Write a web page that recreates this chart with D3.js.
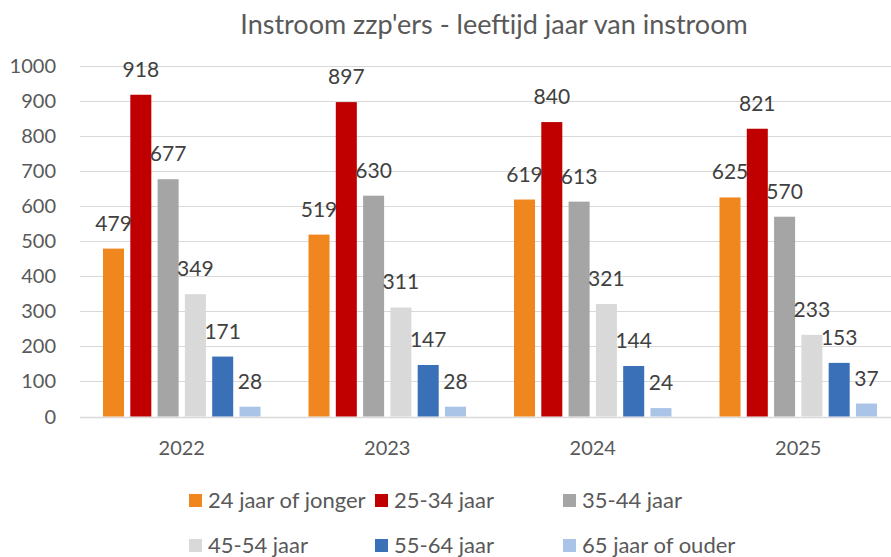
<!DOCTYPE html>
<html><head><meta charset="utf-8">
<script src="https://cdn.jsdelivr.net/npm/d3@7"></script>
<style>body{margin:0;background:#fff;} text{font-family:Lato,"Open Sans",sans-serif;}</style>
</head><body>
<svg id="c" width="891" height="557"></svg>
<script>
const years = ["2022","2023","2024","2025"];
const seriesNames = ["24 jaar of jonger","25-34 jaar","35-44 jaar","45-54 jaar","55-64 jaar","65 jaar of ouder"];
const s24 = [479,519,619,625];
const s25 = [918,897,840,821];
const s35 = [677,630,613,570];
const s45 = [349,311,321,233];
const s55 = [171,147,144,153];
const s65 = [28,28,24,37];
const yTicks = [0,100,200,300,400,500,600,700,800,900,1000];
const colors = ["#F0861E","#C00000","#A5A5A5","#D9D9D9","#3A70B8","#A9C4E6"];
const series = [s24,s25,s35,s45,s55,s65];

(function(){
const svg = d3.select("#c");
const pl = 80, pr = 900, pt = 66, pb = 416.5;
const y = d3.scaleLinear().domain([0,1000]).range([pb, pt]);
const x0 = d3.scaleBand().domain(years).range([pl,pr]).paddingInner(0.2336).paddingOuter(0.112);
const x1 = d3.scaleBand().domain(d3.range(6)).range([0,x0.bandwidth()]).paddingInner(0.23).paddingOuter(0.0);

svg.append("text").attr("x",494).attr("y",34).attr("text-anchor","middle")
  .attr("font-size",27).attr("fill","#595959").text("Instroom zzp'ers - leeftijd jaar van instroom");

svg.append("g").selectAll("line").data(yTicks).join("line")
  .attr("x1",pl).attr("x2",891).attr("y1",d=>Math.round(y(d))+0.5).attr("y2",d=>Math.round(y(d))+0.5)
  .attr("stroke","#D9D9D9").attr("stroke-width",d=>d===0?1.5:1);

svg.append("g").selectAll("text").data(yTicks).join("text")
  .attr("x",56).attr("y",d=>y(d)+7).attr("text-anchor","end")
  .attr("font-size",20).attr("fill","#595959").text(d=>d);

years.forEach((yr,i)=>{
  const g = svg.append("g").attr("transform",`translate(${x0(yr)},0)`);
  series.forEach((s,j)=>{
    g.append("rect").attr("x",x1(j)).attr("width",x1.bandwidth())
      .attr("y",y(s[i])).attr("height",pb-y(s[i])).attr("fill",colors[j]);
  });
  series.forEach((s,j)=>{
    g.append("text").attr("x",x1(j)+x1.bandwidth()/2).attr("y",y(s[i])-18)
      .attr("text-anchor","middle").attr("font-size",21).attr("fill","#404040").text(s[i]);
  });
  svg.append("text").attr("x",x0(yr)+x0.bandwidth()/2).attr("y",455).attr("text-anchor","middle")
    .attr("font-size",20).attr("fill","#595959").text(yr);
});

const legX = [189,375,563], legY = [500,545];
seriesNames.forEach((n,k)=>{
  const cx = legX[k%3], cy = legY[Math.floor(k/3)];
  svg.append("rect").attr("x",cx).attr("y",cy-6).attr("width",13).attr("height",13).attr("fill",colors[k]);
  svg.append("text").attr("x",cx+19).attr("y",cy+8).attr("font-size",22).attr("fill","#595959").text(n);
});
})();
</script>
</body></html>
